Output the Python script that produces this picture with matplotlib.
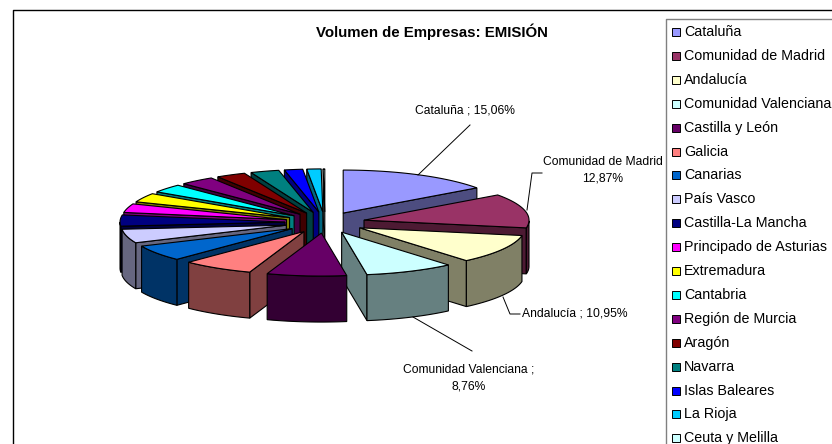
"""Volumen de Empresas: EMISION, exploded 3D pie drawn from polygons."""

import matplotlib

matplotlib.use("Agg")
matplotlib.rcParams["font.family"] = ["Liberation Sans", "DejaVu Sans"]
import matplotlib.pyplot as plt  # noqa: E402
import numpy as np  # noqa: E402
from matplotlib.colors import to_rgb  # noqa: E402
from matplotlib.patches import Polygon, Rectangle  # noqa: E402

REGIONS = [
    "Cataluña", "Comunidad de Madrid", "Andalucía", "Comunidad Valenciana",
    "Castilla y León", "Galicia", "Canarias", "País Vasco", "Castilla-La Mancha",
    "Principado de Asturias", "Extremadura", "Cantabria", "Región de Murcia",
    "Aragón", "Navarra", "Islas Baleares", "La Rioja", "Ceuta y Melilla",
]
SHARES = [15.06, 12.87, 10.95, 8.76, 7.8, 7.0, 6.0, 5.2, 4.2,
          3.3, 3.4, 3.2, 3.4, 2.9, 2.8, 1.8, 1.4, 0.16]
COLORS = [
    "#9999FF", "#993366", "#FFFFCC", "#CCFFFF", "#660066", "#FF8080",
    "#0066CC", "#CCCCFF", "#000080", "#FF00FF", "#FFFF00", "#00FFFF",
    "#800080", "#800000", "#008080", "#0000FF", "#00CCFF", "#CCFFFF",
]

# pie geometry, in pixels of the 832x444 canvas
CX, CY = 325.0, 222.5
RX, RY = 165.0, 43.0
EX, EY = 40.0, 10.6
DEPTH = 46.0
LW = 0.8


def dark(color):
    return tuple(c * 0.5 for c in to_rgb(color))


def draw_slice(ax, start, end, color):
    mid = (start + end) / 2
    tx = CX + EX * np.sin(mid)
    ty = CY - EY * np.cos(mid)
    ts = np.linspace(start, end, 40)
    xs = tx + RX * np.sin(ts)
    ys = ty - RY * np.cos(ts)
    side = dark(color)

    # radial walls that face the viewer
    for angle, visible in ((start, np.sin(start) < 0), (end, np.sin(end) > 0)):
        if visible:
            ex = tx + RX * np.sin(angle)
            ey = ty - RY * np.cos(angle)
            quad = [(tx, ty), (ex, ey), (ex, ey + DEPTH), (tx, ty + DEPTH)]
            ax.add_patch(Polygon(quad, fc=side, ec="black", lw=LW))

    # outer wall, near half of the ellipse only
    front = np.cos(ts) <= 0
    if front.sum() > 1:
        top = np.column_stack([xs[front], ys[front]])
        bottom = np.column_stack([xs[front], ys[front] + DEPTH])[::-1]
        ax.add_patch(Polygon(np.vstack([top, bottom]), fc=side, ec="black", lw=LW))

    outline = np.vstack([[tx, ty], np.column_stack([xs, ys])])
    ax.add_patch(Polygon(outline, fc=color, ec="black", lw=LW))


def main():
    fig = plt.figure(figsize=(8.32, 4.44), dpi=100)
    ax = fig.add_axes([0, 0, 1, 1])
    ax.set_xlim(0, 832)
    ax.set_ylim(444, 0)
    ax.axis("off")

    # outer chart frame
    ax.plot([12.5, 12.5, 832], [444, 10.5, 10.5], color="black", lw=1.0)

    ax.text(432, 32, "Volumen de Empresas: EMISIÓN", ha="center", va="center",
            fontsize=10.8, fontweight="bold")

    shares = np.asarray(SHARES)
    edges = np.concatenate([[0], np.cumsum(shares)]) / shares.sum() * 2 * np.pi
    mids = (edges[:-1] + edges[1:]) / 2
    # far slices first so the near ones paint over them
    for i in np.argsort(-np.cos(mids)):
        draw_slice(ax, edges[i], edges[i + 1], COLORS[i])

    # leaders
    leader = {"color": "black", "lw": 0.7}
    ax.plot([418, 470], [175, 125], **leader)
    ax.plot([527, 532, 542], [210, 173, 173], **leader)
    ax.plot([503, 510, 520], [297, 314, 314], **leader)
    ax.plot([413, 472], [317, 351], **leader)

    # data labels
    label = {"fontsize": 8.7, "ha": "center", "va": "center"}
    ax.text(465, 110, f"{REGIONS[0]} ; 15,06%", **label)
    ax.text(603, 162, REGIONS[1], **label)
    ax.text(603, 178, "12,87%", **label)
    ax.text(575, 313, f"{REGIONS[2]} ; 10,95%", **label)
    ax.text(469, 369, f"{REGIONS[3]} ;", **label)
    ax.text(469, 386, "8,76%", **label)

    # legend box runs off the canvas on the right and bottom
    ax.plot([666, 666, 832], [444, 19.5, 19.5], color="#808080", lw=1.0)
    for i, (name, color) in enumerate(zip(REGIONS, COLORS)):
        y = 32 + i * 23.9
        ax.add_patch(Rectangle((672, y - 4), 8, 8, fc=color, ec="black", lw=0.7))
        ax.text(684, y, name, ha="left", va="center", fontsize=10.3)

    fig.savefig("out.png", dpi=100)
    plt.close(fig)


if __name__ == "__main__":
    main()
